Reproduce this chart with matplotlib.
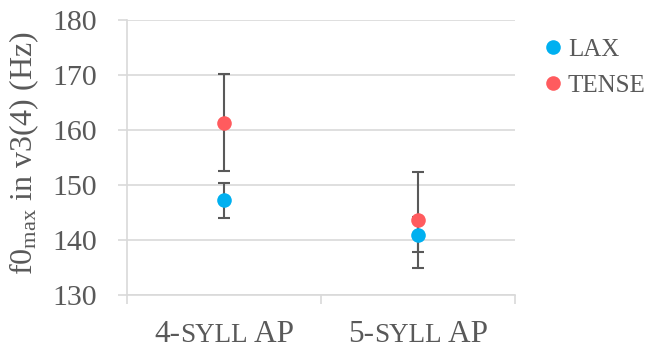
import matplotlib
matplotlib.use("Agg")
import matplotlib.pyplot as plt
import numpy as np

plt.rcParams['font.family'] = ['Liberation Serif', 'DejaVu Serif']
plt.rcParams['mathtext.fontset'] = 'custom'
plt.rcParams['mathtext.rm'] = 'Liberation Serif'
plt.rcParams['mathtext.it'] = 'Liberation Serif:italic'

# ---- data ----
categories = ["4-SYLL AP", "5-SYLL AP"]
cat_parts = [("4-", "SYLL", " AP"), ("5-", "SYLL", " AP")]
series_names = ["LAX", "TENSE"]
lax_mean = [147.2, 140.9]
lax_err = [3.15, 3.2]
tense_mean = [161.3, 143.6]
tense_err = [8.85, 8.8]
yticks = [130, 140, 150, 160, 170, 180]

TXT = '#595959'
GRID = '#D9D9D9'
C_LAX = '#00B0F0'
C_TENSE = '#FF5B5E'

W, H = 647, 349
fig = plt.figure(figsize=(W / 100, H / 100), dpi=100)
ax = fig.add_axes([127 / W, 1 - 294.7 / H, (515 - 127) / W, (294.7 - 20) / H])

x = np.arange(len(categories))
for mean, err in [(lax_mean, lax_err), (tense_mean, tense_err)]:
    ax.errorbar(x, mean, yerr=err, fmt='none', ecolor=TXT, elinewidth=1.5,
                capsize=4.4, capthick=1.5, zorder=3)
for mean, col, name in [(lax_mean, C_LAX, series_names[0]),
                        (tense_mean, C_TENSE, series_names[1])]:
    ax.plot(x, mean, 'o', color=col, markersize=10.5, markeredgewidth=0,
            zorder=5, label=name)

ax.set_xlim(-0.5, len(categories) - 0.5)
ax.set_ylim(yticks[0], yticks[-1])
ax.set_yticks(yticks)
ax.set_xticks(np.arange(len(categories) + 1) - 0.5)
ax.set_xticklabels([])
ax.yaxis.grid(True, color=GRID, linewidth=1.2, zorder=0)
ax.set_axisbelow(True)
for s in ['top', 'right']:
    ax.spines[s].set_visible(False)
for s in ['left', 'bottom']:
    ax.spines[s].set_color(GRID)
    ax.spines[s].set_linewidth(1.2)
ax.tick_params(axis='both', direction='out', length=6.5, width=1.2, color=GRID,
               labelcolor=TXT, labelsize=21.5)
ax.tick_params(axis='y', pad=15)

fig.text(24 / W, 1 - 153 / H, r'f0$_{\mathrm{max}}$ in v3(4) (Hz)', rotation=90,
         ha='center', va='center', fontsize=23, color=TXT)

# category labels with simulated small caps
fig.canvas.draw()
r = fig.canvas.get_renderer()
fs_full, fs_small = 22.5, 19.5
base_y = 1 - 342 / H
for i, parts in enumerate(cat_parts):
    sizes = [fs_full, fs_small, fs_full]
    txts = [fig.text(0, base_y, p, fontsize=s, color=TXT, ha='left', va='baseline')
            for p, s in zip(parts, sizes)]
    widths = [t.get_window_extent(r).width for t in txts]
    cx = ax.transData.transform((x[i], 0))[0]
    start = cx - sum(widths) / 2
    for t, w in zip(txts, widths):
        t.set_x(start / W)
        start += w

leg = fig.legend(loc='upper left', bbox_to_anchor=(544 / W, 1 - 38 / H),
                 frameon=False, fontsize=18, labelcolor=TXT, handlelength=0.7,
                 handletextpad=0.25, labelspacing=0.55, borderpad=0, borderaxespad=0)

fig.savefig('out.png', dpi=100)
